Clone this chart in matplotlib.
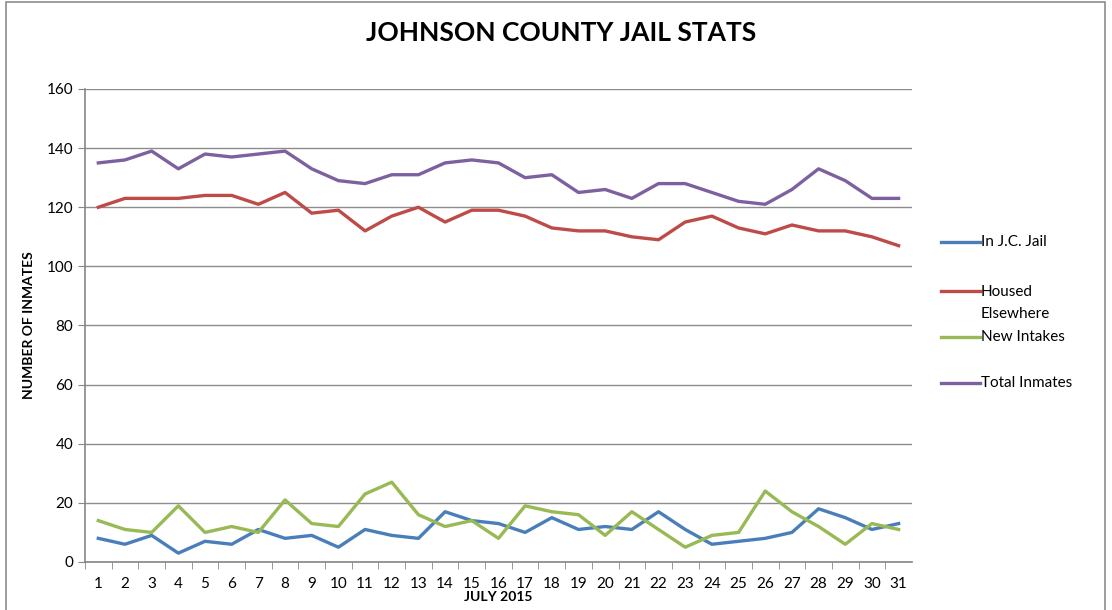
import matplotlib
matplotlib.use("Agg")
import matplotlib.pyplot as plt
from matplotlib.patches import Rectangle

plt.rcParams['font.family'] = ['Lato', 'DejaVu Sans']

days = list(range(1, 32))
in_jail = [8, 6, 9, 3, 7, 6, 11, 8, 9, 5, 11, 9, 8, 17, 14, 13, 10, 15, 11, 12,
           11, 17, 11, 6, 7, 8, 10, 18, 15, 11, 13]
housed = [120, 123, 123, 123, 124, 124, 121, 125, 118, 119, 112, 117, 120, 115, 119, 119,
          117, 113, 112, 112, 110, 109, 115, 117, 113, 111, 114, 112, 112, 110, 107]
intakes = [14, 11, 10, 19, 10, 12, 10, 21, 13, 12, 23, 27, 16, 12, 14, 8, 19, 17, 16, 9,
           17, 11, 5, 9, 10, 24, 17, 12, 6, 13, 11]
total = [135, 136, 139, 133, 138, 137, 138, 139, 133, 129, 128, 131, 131, 135, 136, 135,
         130, 131, 125, 126, 123, 128, 128, 125, 122, 121, 126, 133, 129, 123, 123]

series = [
    ("In J.C. Jail", in_jail, "#4A7EBB"),
    ("Housed\nElsewhere", housed, "#BE4B48"),
    ("New Intakes", intakes, "#98B954"),
    ("Total Inmates", total, "#7D60A0"),
]

fig = plt.figure(figsize=(11.12, 6.10), dpi=100)
fig.patches.append(Rectangle((0.005, -0.1), 0.989, 1.096, transform=fig.transFigure,
                             fill=False, edgecolor="#8c8c8c", linewidth=1.2))
ax = fig.add_axes((0.0764, 0.0787, 0.7437, 0.7754))

for name, vals, col in series:
    ax.plot(days, vals, color=col, linewidth=2.4, label=name, solid_joinstyle="round")

ax.set_xlim(0.5, 31.5)
ax.set_ylim(0, 160)
ax.set_yticks(range(0, 161, 20))
ax.set_xticks(days)
ax.set_xticks([d + 0.5 for d in range(0, 31)], minor=True)
ax.tick_params(axis='x', which='major', length=0, labelsize=11, pad=11)
ax.tick_params(axis='x', which='minor', length=5, color="#868686")
ax.tick_params(axis='y', length=5, color="#868686", labelsize=11)
ax.grid(axis='y', color="#8c8c8c", linewidth=1)
ax.set_axisbelow(True)
for s in ['top', 'right']:
    ax.spines[s].set_visible(False)
for s in ['left', 'bottom']:
    ax.spines[s].set_color("#868686")
    ax.spines[s].set_linewidth(1.2)

ax.set_ylabel("NUMBER OF INMATES", fontsize=10, fontweight='bold', labelpad=8)
ax.set_xlabel("JULY 2015", fontsize=10, fontweight='bold', labelpad=0)
fig.suptitle("JOHNSON COUNTY JAIL STATS", fontsize=19, fontweight='bold', x=0.505, y=0.965)

# legend keys laid out like Excel's (evenly spaced, first line aligned)
key_y = [0.6765, 0.573, 0.4757, 0.378]
for (name, _, col), ky in zip(series, key_y):
    ax.plot([1.035, 1.082], [ky, ky], color=col, linewidth=2.4,
            transform=ax.transAxes, clip_on=False)
    if "\n" in name:
        ax.text(1.0834, ky + 0.013, name, transform=ax.transAxes, fontsize=11,
                va='top', ha='left', linespacing=1.75)
    else:
        ax.text(1.0834, ky, name, transform=ax.transAxes, fontsize=11,
                va='center', ha='left')

fig.savefig("out.png", dpi=100)
